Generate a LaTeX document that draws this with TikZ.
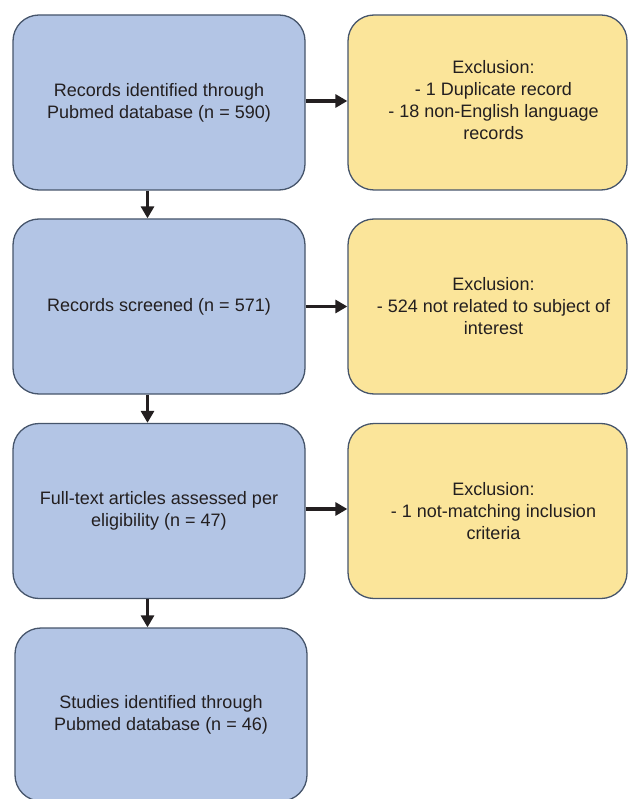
\documentclass[tikz,border=0pt]{standalone}
\usepackage{fontspec}
\setmainfont{Liberation Sans}
\usetikzlibrary{arrows.meta}
\definecolor{bfill}{HTML}{B3C5E5}
\definecolor{yfill}{HTML}{FBE59A}
\definecolor{edge}{HTML}{46556B}
\definecolor{ink}{HTML}{231F20}
\begin{document}
\begin{tikzpicture}[x=1pt,y=-1pt,
  box/.style={draw=edge, line width=1.3pt, rounded corners=26pt, minimum width=292pt, minimum height=175pt, align=center, text=ink, font=\fontsize{18}{22}\selectfont, inner sep=0pt},
  bluebox/.style={box, fill=bfill},
  yelbox/.style={box, fill=yfill, minimum width=279pt},
  arr/.style={draw=ink, line width=3.8pt, -{Triangle[length=12pt,width=13pt]}}]
\useasboundingbox (0,0) rectangle (628,799);
\clip (0,0) rectangle (628,799);
\node[bluebox] (b1) at (159,102.5) {Records identified through\\Pubmed database (n = 590)};
\node[bluebox] (b2) at (159,306.5) {Records screened (n = 571)};
\node[bluebox] (b3) at (159,511) {Full-text articles assessed per\\eligibility (n = 47)};
\node[bluebox, minimum height=173pt] (b4) at (161,714.5) {Studies identified through\\Pubmed database (n = 46)};
\node[yelbox] (e1) at (487.5,102.5) {\hspace*{12pt}Exclusion:\\\hspace*{12pt}- 1 Duplicate record\\\hspace*{12pt}- 18 non-English language\\\hspace*{12pt}records\\[-16pt]\mbox{}};
\node[yelbox] (e2) at (487.5,306.5) {\hspace*{12pt}Exclusion:\\\hspace*{12pt}- 524 not related to subject of\\\hspace*{12pt}interest};
\node[yelbox] (e3) at (487.5,511) {\hspace*{12pt}Exclusion:\\\hspace*{12pt}- 1 not-matching inclusion\\\hspace*{12pt}criteria};
\draw[arr] (b1.east) ++(0,-1.5) coordinate (a1s) -- (a1s -| e1.west);
\draw[arr] (b2.east) -- (e2.west);
\draw[arr] (b3.east) ++(0,-2) coordinate (a3s) -- (a3s -| e3.west);
\draw[arr] ([xshift=-11.5pt]b1.south) -- ([xshift=-11.5pt]b2.north);
\draw[arr] ([xshift=-11.5pt]b2.south) -- ([xshift=-11.5pt]b3.north);
\draw[arr] ([xshift=-11.5pt]b3.south) -- ([xshift=-11.5pt]b3.south |- b4.north);
\end{tikzpicture}
\end{document}
